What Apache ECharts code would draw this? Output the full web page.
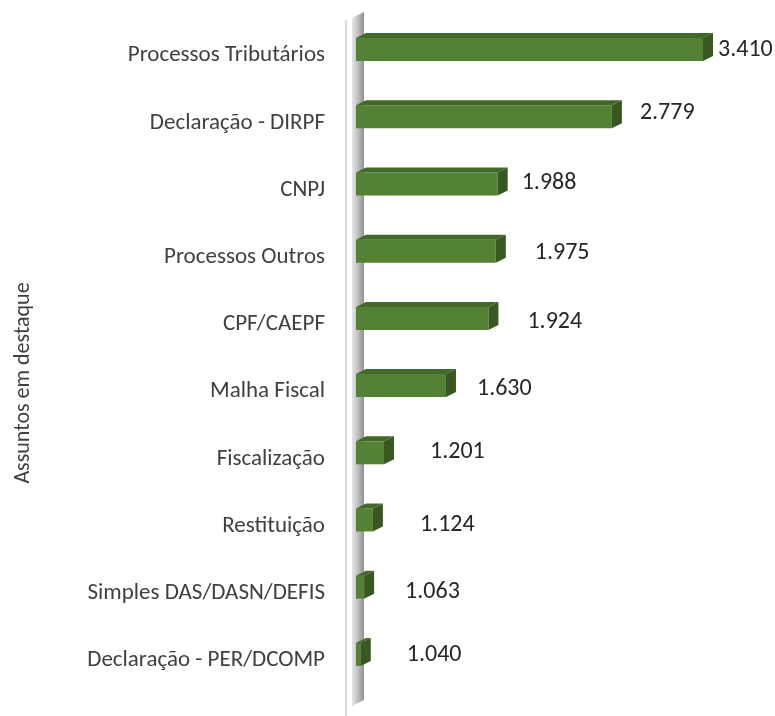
<!DOCTYPE html>
<html>
<head>
<meta charset="utf-8">
<script src="https://cdn.jsdelivr.net/npm/echarts@6/dist/echarts.min.js"></script>
<style>
  html, body { margin: 0; padding: 0; background: #fff; }
  #chart { width: 775px; height: 716px; }
</style>
</head>
<body>
<div id="chart"></div>
<script>
var categories = ['Processos Tributários', 'Declaração - DIRPF', 'CNPJ', 'Processos Outros', 'CPF/CAEPF',
    'Malha Fiscal', 'Fiscalização', 'Restituição', 'Simples DAS/DASN/DEFIS', 'Declaração - PER/DCOMP']
var values = [3410, 2779, 1988, 1975, 1924, 1630, 1201, 1124, 1063, 1040]
var axisMin = 1000
var axisMax = 3500

// label nudges (the original has hand-placed labels)
var labelDx = [15, 28, 24, 39, 39, 31, 46, 47, 41, 46]
var labelDy = [-6, -10, -7, -4, -2, -3, -7, -1, -1, -5]

var font = 'Carlito, "Open Sans", sans-serif'

function fmt(v) {
    return String(v).replace(/\B(?=(\d{3})+(?!\d))/g, '.')
}

var chartDom = document.getElementById('chart')
var myChart = echarts.init(chartDom)

function renderBar(params, api) {
    var i = api.value(1)
    var v = api.value(0)
    var start = api.coord([axisMin, i])
    var end = api.coord([v, i])
    var h = 23, d = 10, up = 5
    var x0 = start[0] + 1
    var x1 = end[0]
    var y0 = start[1] - 6 - h / 2
    return {
        type: 'group',
        children: [{
            type: 'rect',
            shape: { x: x0, y: y0, width: x1 - x0, height: h },
            style: { fill: '#548235' }
        }, {
            type: 'polygon',
            shape: { points: [[x0, y0], [x1, y0], [x1 + d, y0 - up], [x0 + d, y0 - up]] },
            style: { fill: '#43692a' }
        }, {
            type: 'polygon',
            shape: { points: [[x1, y0], [x1 + d, y0 - up], [x1 + d, y0 + h - up], [x1, y0 + h]] },
            style: { fill: '#385723' }
        }, {
            type: 'text',
            style: {
                text: fmt(v),
                x: x1 + labelDx[i],
                y: start[1] + labelDy[i],
                align: 'left',
                verticalAlign: 'middle',
                fill: '#262626',
                font: '24px ' + font
            }
        }]
    }
}

option = {
    animation: false,
    backgroundColor: '#fff',
    grid: { left: 355, right: 59, top: 22, bottom: 22 },
    xAxis: {
        type: 'value',
        min: axisMin,
        max: axisMax,
        show: false
    },
    yAxis: {
        type: 'category',
        data: categories,
        inverse: true,
        axisLine: { show: false },
        axisTick: { show: false },
        axisLabel: {
            margin: 30,
            fontSize: 23,
            fontFamily: font,
            color: '#404040'
        }
    },
    series: [{
        type: 'custom',
        renderItem: renderBar,
        encode: { x: 0, y: 1 },
        data: values.map(function(v, i) { return [v, i] }),
        z: 10
    }]
}

option && myChart.setOption(option)

// back wall + floor line drawn next to the category axis
var left = myChart.convertToPixel({ gridIndex: 0 }, [axisMin, 0])[0]
myChart.setOption({
    graphic: [{
        type: 'rect',
        shape: { x: left - 10, y: 20, width: 2, height: 696 },
        style: { fill: '#d9d9d9' },
        z: 1
    }, {
        type: 'polygon',
        shape: { points: [[left - 3, 18], [left + 9, 12], [left + 9, 700], [left - 3, 706]] },
        style: {
            fill: new echarts.graphic.LinearGradient(0, 0, 1, 0, [
                { offset: 0, color: '#e6e6e6' },
                { offset: 0.45, color: '#c4c4c4' },
                { offset: 1, color: '#8f8f8f' }
            ])
        },
        z: 1
    }, {
        type: 'text',
        x: 23,
        y: 383,
        rotation: Math.PI / 2,
        style: {
            text: 'Assuntos em destaque',
            align: 'center',
            verticalAlign: 'middle',
            fill: '#404040',
            font: '22px ' + font
        },
        z: 5
    }]
})
</script>
</body>
</html>
